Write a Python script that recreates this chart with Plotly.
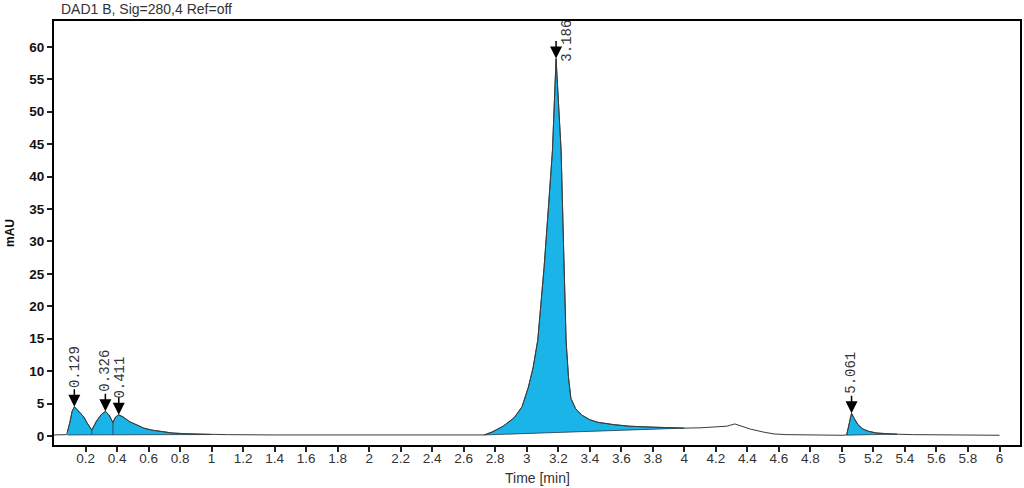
import numpy as np
import plotly.graph_objects as go

# ---------------- data ----------------
time_min = [0.00, 0.05, 0.08, 0.10, 0.115, 0.129, 0.15, 0.17, 0.19, 0.21, 0.24,
            0.27, 0.30, 0.326, 0.35, 0.374, 0.39, 0.411, 0.44, 0.48, 0.52, 0.57,
            0.62, 0.68, 0.75, 0.85, 0.95, 1.10, 1.40, 1.80, 2.20, 2.50, 2.65,
            2.73, 2.78, 2.85, 2.92, 2.97, 3.01, 3.04, 3.07, 3.11, 3.14, 3.163,
            3.186, 3.20, 3.218, 3.235, 3.25, 3.265, 3.28, 3.31, 3.35, 3.40, 3.45,
            3.55, 3.65, 3.80, 4.00, 4.10, 4.20, 4.27, 4.32, 4.36, 4.42, 4.50,
            4.57, 4.65, 4.80, 5.00, 5.03, 5.045, 5.061, 5.08, 5.10, 5.13, 5.17,
            5.22, 5.30, 5.45, 5.70, 6.00]
signal_mau = [0.15, 0.15, 0.2, 2.0, 3.8, 4.5, 4.0, 3.4, 2.9, 2.0, 0.9,
              2.3, 3.3, 3.8, 3.2, 2.05, 2.9, 3.25, 2.9, 2.2, 1.7, 1.2,
              0.9, 0.65, 0.45, 0.32, 0.25, 0.2, 0.15, 0.12, 0.1, 0.1, 0.1,
              0.15, 0.6, 1.5, 2.8, 4.5, 7.5, 10.5, 14.8, 26.0, 36.0, 44.0,
              58.2, 52.0, 44.0, 28.0, 14.5, 9.0, 5.8, 4.2, 3.2, 2.5, 2.1,
              1.75, 1.5, 1.35, 1.2, 1.25, 1.35, 1.5, 1.85, 1.55, 1.05, 0.6,
              0.3, 0.2, 0.12, 0.1, 0.15, 2.0, 3.5, 2.6, 1.8, 1.1, 0.7,
              0.45, 0.3, 0.2, 0.12, 0.1]

peak_times = [0.129, 0.326, 0.411, 3.186, 5.061]
peak_labels = ["0.129", "0.326", "0.411", "3.186", "5.061"]

# integration events
int_start = [0.085, 2.73, 5.03]
int_end = [1.00, 4.00, 5.35]
base_start = [0.15, 0.15, 0.12]
base_end = [0.22, 1.20, 0.28]
drop_times = [0.24, 0.374]

x_tick_vals = [0.2, 0.4, 0.6, 0.8, 1.0, 1.2, 1.4, 1.6, 1.8, 2.0, 2.2, 2.4, 2.6,
               2.8, 3.0, 3.2, 3.4, 3.6, 3.8, 4.0, 4.2, 4.4, 4.6, 4.8, 5.0, 5.2,
               5.4, 5.6, 5.8, 6.0]
x_tick_text = ["0.2", "0.4", "0.6", "0.8", "1", "1.2", "1.4", "1.6", "1.8", "2",
               "2.2", "2.4", "2.6", "2.8", "3", "3.2", "3.4", "3.6", "3.8", "4",
               "4.2", "4.4", "4.6", "4.8", "5", "5.2", "5.4", "5.6", "5.8", "6"]
y_tick_vals = [0, 5, 10, 15, 20, 25, 30, 35, 40, 45, 50, 55, 60]

title_text = "DAD1 B, Sig=280,4 Ref=off"
x_title = "Time [min]"
y_title = "mAU"

# ---------------- figure ----------------
FILL = "#1BB4E9"
t = np.array(time_min)
s = np.array(signal_mau)

fig = go.Figure()

# filled integrated peaks
for ts, te, bs, be in zip(int_start, int_end, base_start, base_end):
    inner = (t > ts) & (t < te)
    cx = np.concatenate([[ts], t[inner], [te]])
    cy = np.concatenate([[np.interp(ts, t, s)], s[inner], [np.interp(te, t, s)]])
    px = np.concatenate([cx, [te, ts]])
    py = np.concatenate([cy, [be, bs]])
    fig.add_trace(go.Scatter(x=px, y=py, mode="lines", fill="toself",
                             fillcolor=FILL, line=dict(color="#2b3a44", width=0.8),
                             hoverinfo="skip", showlegend=False))

# drop lines between fused peaks
dx, dy = [], []
for d in drop_times:
    dx += [d, d, None]
    dy += [float(np.interp(d, int_start[:1] + int_end[:1], base_start[:1] + base_end[:1])),
           float(np.interp(d, t, s)), None]
fig.add_trace(go.Scatter(x=dx, y=dy, mode="lines", line=dict(color="#2b3a44", width=0.8),
                         hoverinfo="skip", showlegend=False))

# chromatogram trace
fig.add_trace(go.Scatter(x=t, y=s, mode="lines", line=dict(color="#3a3a3a", width=1),
                         hoverinfo="skip", showlegend=False))

annotations = []
peak_heights = np.interp(peak_times, t, s)
label_xshift = [0, 0, 1, 11, 0]
label_yshift = [18, 19, 15, -4, 18]
for pt, ph, lab, xs, ys in zip(peak_times, peak_heights, peak_labels, label_xshift, label_yshift):
    annotations.append(dict(x=pt, y=float(ph), xref="x", yref="y", text="",
                            showarrow=True, arrowhead=2, arrowsize=1.6, arrowwidth=1.5,
                            arrowcolor="black", ax=0, ay=-19, standoff=0))
    annotations.append(dict(x=pt, y=float(ph), xref="x", yref="y", text=lab,
                            showarrow=False, textangle=-90, xanchor="center",
                            yanchor="bottom", xshift=xs, yshift=ys, borderpad=0,
                            font=dict(family="Liberation Mono", size=14, color="#333333")))

annotations.append(dict(text=title_text, xref="paper", yref="paper", x=0, y=1,
                        xanchor="left", yanchor="bottom", xshift=5, yshift=2,
                        showarrow=False,
                        font=dict(family="Liberation Sans", size=14, color="#333333")))
annotations.append(dict(text=y_title, xref="paper", yref="paper", x=0, y=0.5,
                        xanchor="center", yanchor="middle", xshift=-44, textangle=-90,
                        showarrow=False,
                        font=dict(family="Liberation Sans", size=12, color="#111111",
                                  weight="bold")))
annotations.append(dict(text=x_title, xref="paper", yref="paper", x=0.5, y=0,
                        xanchor="center", yanchor="middle", yshift=-33,
                        showarrow=False,
                        font=dict(family="Liberation Sans", size=14, color="#333333")))

fig.update_layout(
    width=1024, height=488,
    margin=dict(l=54, r=4, t=21, b=43),
    paper_bgcolor="white", plot_bgcolor="white",
    annotations=annotations,
    showlegend=False,
)
fig.update_xaxes(range=[0.0, 6.13], tickmode="array", tickvals=x_tick_vals,
                 ticktext=x_tick_text, showgrid=False, zeroline=False,
                 showline=True, linecolor="black", linewidth=2, mirror=True,
                 ticks="outside", ticklen=5, tickwidth=2, tickcolor="#222",
                 automargin=False, ticklabelstandoff=-5,
                 tickfont=dict(family="Liberation Sans", size=13.5, color="#333333"))
fig.update_yaxes(range=[-1.4, 64.0], tickmode="array", tickvals=y_tick_vals,
                 showgrid=False, zeroline=False,
                 showline=True, linecolor="black", linewidth=2, mirror=True,
                 ticks="outside", ticklen=5, tickwidth=2, tickcolor="#222",
                 automargin=False,
                 tickfont=dict(family="Liberation Sans", size=13.5, color="#111111",
                               weight="bold"))

fig.write_html("out.html", config={"displayModeBar": False},
               post_script="document.body.style.margin='0';")
